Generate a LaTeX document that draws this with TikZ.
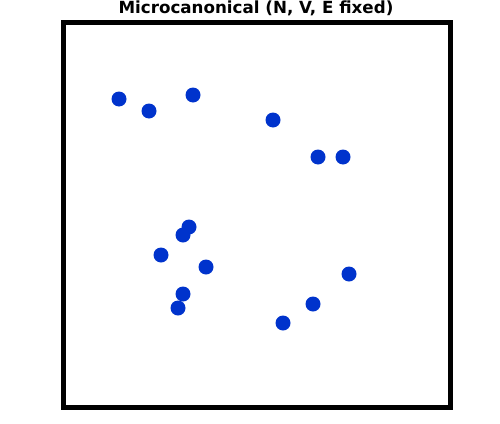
\documentclass[tikz,border=0pt]{standalone}
\usepackage{fontspec}
\setmainfont{DejaVu Sans}
\definecolor{dotblue}{RGB}{0,51,204}
\begin{document}
\begin{tikzpicture}[x=1pt,y=-1pt,
  particle/.style={circle,fill=dotblue,inner sep=0pt,minimum size=15pt},
  frame/.style={draw=black,line width=5pt}]
\useasboundingbox (0,0) rectangle (500,423);
\node[font=\bfseries\fontsize{16.7}{18}\selectfont,inner sep=0pt] (title) at (256,8) {Microcanonical (N, V, E fixed)};
\draw[frame] (63,22) rectangle (450,407);
\foreach \x/\y [count=\i] in {119/99,149/111,193/95,273/120,318/157,343/157,189/227,183/235,161/255,206/267,183/294,178/308,349/274,313/304,283/323}
  \node[particle] (p\i) at (\x,\y) {};
\end{tikzpicture}
\end{document}
